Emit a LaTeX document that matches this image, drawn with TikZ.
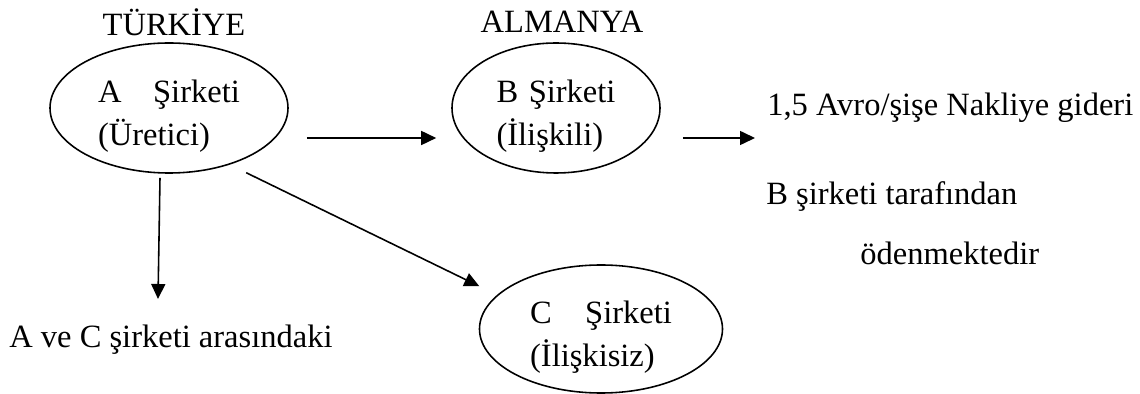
\documentclass[tikz,border=0pt]{standalone}
\usepackage{fontspec}
\setmainfont{Liberation Serif}
\usepackage{tikz}
\usetikzlibrary{shapes, arrows.meta}

\newcommand{\lowr}{\rule{0pt}{0.78cm}}

\begin{document}
\begin{tikzpicture}[font=\fontsize{18.5}{24.5}\selectfont,
  firm/.style={draw, ellipse, line width=0.9pt, inner sep=0pt, align=left},
  lbl/.style={inner sep=0pt, anchor=west},
  arr/.style={line width=0.9pt, -{Triangle[length=0.3cm,width=0.28cm]}}]
\useasboundingbox (0,0) rectangle (22.8,7.88);
\node (tr) at (3.48,7.44) {TÜRKİYE};
\node (de) at (11.24,7.44) {ALMANYA};
\node [firm, minimum width=4.76cm, minimum height=2.6cm] (a) at (3.38,5.72) {\lowr A\hspace{18pt}Şirketi\\(Üretici)};
\node [firm, minimum width=4.16cm, minimum height=2.6cm] (b) at (11.12,5.72) {\lowr B\hspace{6pt}Şirketi\\(İlişkili)};
\node [firm, minimum width=4.86cm, minimum height=2.56cm] (c) at (12.02,1.30) {\lowr C\hspace{19pt}Şirketi\\(İlişkisiz)};
\node [lbl] (cost) at (15.34,5.72) {1,5 Avro/şişe Nakliye gideri};
\node [lbl] (paid) at (15.32,3.94) {B şirketi tarafından};
\node [lbl] (paid2) at (17.2,2.82) {ödenmektedir};
\node [lbl] (ac) at (0.18,1.08) {A ve C şirketi arasındaki};
\coordinate (acend) at (3.16,1.90);
\draw [arr] ([shift={(0.36,-0.6)}]a.east) -- ([shift={(-0.30,-0.6)}]b.west);
\draw [arr] ([shift={(0.44,-0.6)}]b.east) -- ([shift={(-0.24,-0.6)}]cost.west);
\draw [arr] ([shift={(-0.18,-0.08)}]a.south) -- (acend);
\draw [arr] ([shift={(0.82,-0.04)}]a.300) -- ([shift={(-0.78,-0.1)}]c.150);
\end{tikzpicture}
\end{document}
